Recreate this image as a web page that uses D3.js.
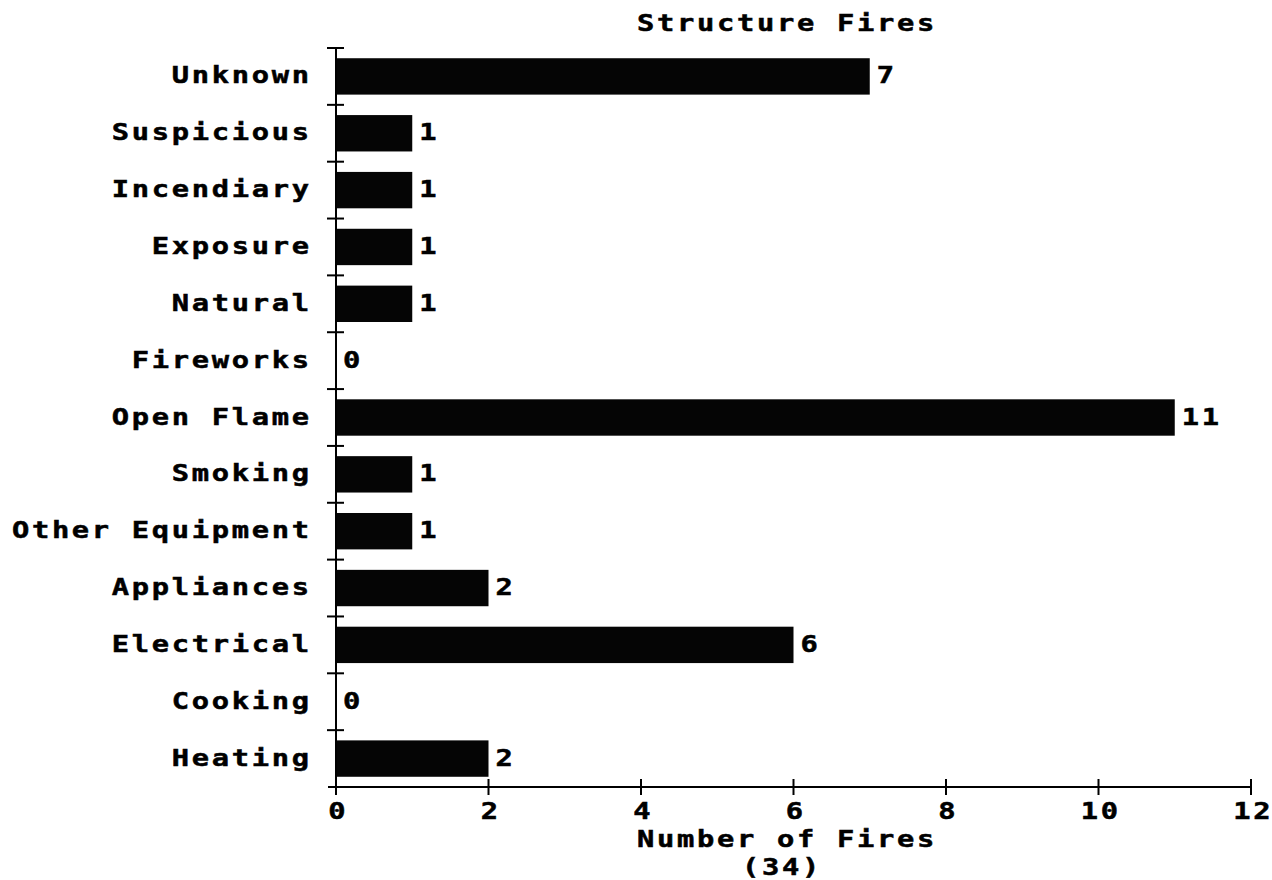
<!DOCTYPE html>
<html>
<head>
<meta charset="utf-8">
<script src="https://cdn.jsdelivr.net/npm/d3@7"></script>
<style>
  body { margin: 0; background: #fff; }
  svg text { font-family: "DejaVu Sans Mono", "Liberation Mono", monospace; font-weight: bold; fill: #000; stroke: #000; stroke-width: 0.5px; }
</style>
</head>
<body>
<div id="chart"></div>
<script>
(function() {
    const width = 1272;
    const height = 880;

    // categories from top to bottom, and their counts
    const causes = ["Unknown", "Suspicious", "Incendiary", "Exposure", "Natural", "Fireworks",
        "Open Flame", "Smoking", "Other Equipment", "Appliances", "Electrical", "Cooking", "Heating"];
    const counts = [7, 1, 1, 1, 1, 0, 11, 1, 1, 2, 6, 0, 2];
    const xTicks = [0, 2, 4, 6, 8, 10, 12];
    const title = "Structure Fires";
    const xTitle = "Number of Fires";
    const total = "(34)";

    const data = causes.map((c, i) => ({ cause: c, n: counts[i] }));

    const plot = { left: 336, right: 1251, top: 48, bottom: 787 };
    const fontSize = 23;
    const sx = 1.25;          // the old plotter font is wide
    const spacing = 2.15;

    const svg = d3.select("#chart").append("svg")
        .attr("width", width).attr("height", height);

    const x = d3.scaleLinear().domain([0, 12]).range([plot.left, plot.right]);
    const y = d3.scaleBand().domain(causes).range([plot.top, plot.bottom])
        .paddingInner(0.36).paddingOuter(0.18);

    // wide text helper
    function label(g, tx, ty, str, anchor) {
        return g.append("text")
            .attr("transform", `translate(${tx},${ty}) scale(${sx},1)`)
            .attr("text-anchor", anchor)
            .attr("font-size", fontSize + "px")
            .attr("letter-spacing", spacing + "px")
            .text(str);
    }

    // bars
    svg.append("g").selectAll("rect")
        .data(data.filter(d => d.n > 0))
        .join("rect")
        .attr("x", x(0))
        .attr("y", d => y(d.cause))
        .attr("width", d => x(d.n) - x(0))
        .attr("height", y.bandwidth())
        .attr("fill", "#050505");

    // axes lines
    const axisG = svg.append("g").attr("stroke", "#000").attr("stroke-width", 2);
    axisG.append("line")
        .attr("x1", plot.left).attr("x2", plot.left)
        .attr("y1", plot.top).attr("y2", plot.bottom + 8);
    axisG.append("line")
        .attr("x1", plot.left - 8).attr("x2", plot.right)
        .attr("y1", plot.bottom).attr("y2", plot.bottom);

    // y ticks at band boundaries
    const step = y.step();
    const yTickPos = d3.range(causes.length).map(i => plot.top + i * step);
    axisG.selectAll(".ytick")
        .data(yTickPos)
        .join("line")
        .attr("class", "ytick")
        .attr("x1", plot.left - 9).attr("x2", plot.left + 8)
        .attr("y1", d => d).attr("y2", d => d);

    // x ticks
    axisG.selectAll(".xtick")
        .data(xTicks)
        .join("line")
        .attr("class", "xtick")
        .attr("x1", d => x(d)).attr("x2", d => x(d))
        .attr("y1", plot.bottom - 8).attr("y2", plot.bottom + 8);

    const textG = svg.append("g");

    xTicks.forEach(t => label(textG, x(t) + spacing, 819, String(t), "middle"));

    // category labels
    data.forEach(d => label(textG, 309 + spacing * sx, y(d.cause) + y.bandwidth() / 2 + 7, d.cause, "end"));

    // value labels
    data.forEach(d => label(textG, x(d.n) + 7, y(d.cause) + y.bandwidth() / 2 + 7, String(d.n), "start"));

    // titles
    label(textG, 787, 31, title, "middle");
    label(textG, 787, 847, xTitle, "middle");
    label(textG, 782, 874.5, total, "middle");
})();
</script>
</body>
</html>
